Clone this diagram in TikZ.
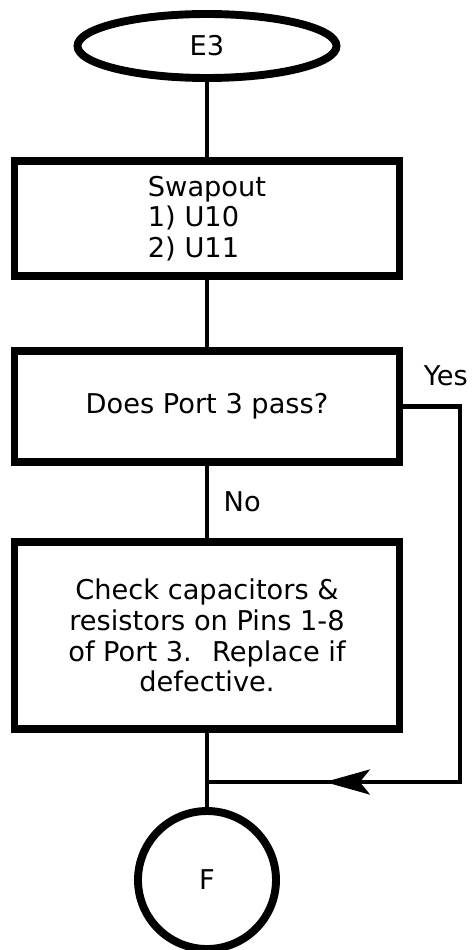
\documentclass[tikz,border=0pt]{standalone}
\usepackage{fontspec}
\setmainfont{DejaVu Sans}
\usetikzlibrary{shapes.geometric, decorations.markings, arrows.meta}

\begin{document}
\begin{tikzpicture}[line width=2.3pt,
    % --- 样式定义 ---
    every node/.style={font=\fontsize{15.5}{17.5}\selectfont},
    % 起点椭圆
    terminal/.style={ellipse, draw=black, line width=4.5pt, minimum width=5.18cm, minimum height=1.28cm, inner sep=0pt},
    % 步骤方框 (粗边)
    stepbox/.style={rectangle, draw=black, line width=4.5pt, minimum width=7.7cm, inner sep=0pt},
    % 出口圆圈
    exitcircle/.style={circle, draw=black, line width=4.5pt, minimum size=2.76cm, inner sep=0pt},
    % 回流线上的箭头 (在线段中间)
    backflow/.style={postaction={decorate},
        decoration={markings, mark=at position 0.828 with {\arrow{Stealth[length=9mm, width=5mm, inset=2mm]}}}}
]
    \useasboundingbox (0,0) rectangle (9.5,-19);

    % =========================================
    % 主干节点 (自上而下)
    % =========================================
    \node[terminal] (e3) at (4.14, -0.92) {E3};
    \node[stepbox, minimum height=2.3cm, align=left] (swap) at (4.14, -4.37) {Swapout\\1) U10\\2) U11};
    \node[stepbox, minimum height=2.22cm] (test) at (4.14, -8.13) {Does Port 3 pass?};
    \node[stepbox, minimum height=3.74cm, align=center] (fix) at (4.14, -12.71)
        {Check capacitors \&\\resistors on Pins 1-8\\of Port 3.~ Replace if\\defective.};
    \node[exitcircle] (f) at (4.14, -17.6) {F};

    % 回流路径的拐点
    \coordinate (yes_turn)  at (9.2, -8.13);
    \coordinate (back_turn) at (9.2, -15.64);
    \coordinate (join)      at (4.14, -15.64); % 汇合点

    % =========================================
    % 连线
    % =========================================
    \draw (e3) -- (swap);
    \draw (swap) -- (test);
    \draw (test) -- node[right=5pt] {No} (fix);
    \draw (fix) -- (f);

    % Yes 分支：向右绕回汇合点
    \draw[backflow] (test.east) -- node[pos=0.75, above=7pt] {Yes} (yes_turn) -- (back_turn) -- (join);

\end{tikzpicture}
\end{document}
